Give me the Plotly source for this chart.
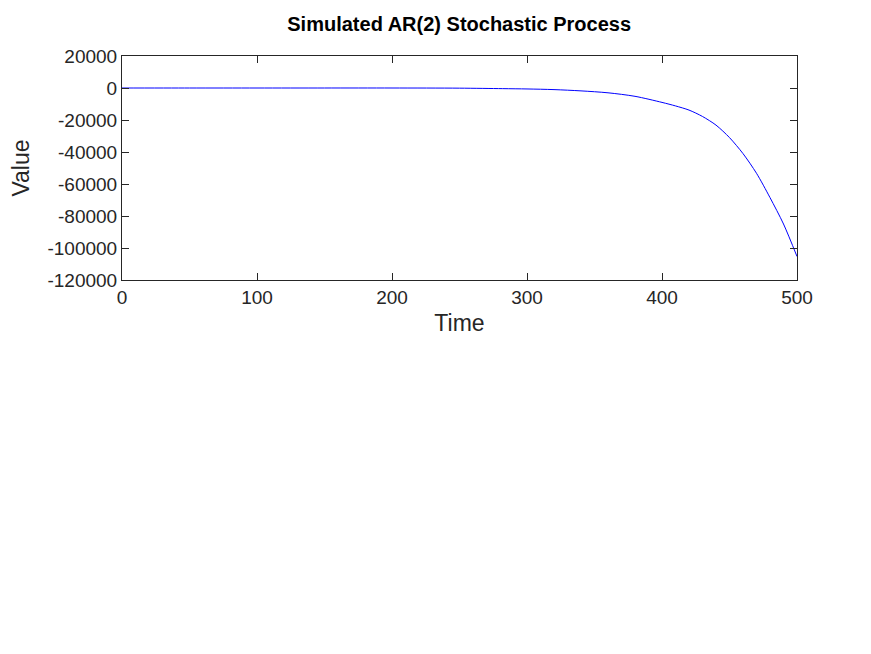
import plotly.graph_objects as go

time = [0, 50, 100, 150, 200, 250, 282, 300, 320, 340, 360, 380, 400, 410, 420, 430,
        440, 450, 460, 470, 480, 490, 500]
value = [0, 0, 0, 0, 0, -100, -400, -600, -1000, -1800, -3000, -5200, -9000, -11200, -13800, -17800,
         -23200, -31000, -41000, -53300, -68500, -85000, -105300]
y_ticks = [20000, 0, -20000, -40000, -60000, -80000, -100000, -120000]
y_labels = ["20000", "0", "-20000", "-40000", "-60000", "-80000", "-100000", "-120000"]

fig = go.Figure()
fig.add_trace(go.Scatter(x=time, y=value, mode="lines", line=dict(color="blue", width=1),
                         line_shape="spline", line_smoothing=0.8))

font = dict(family="Liberation Sans, Arial, sans-serif", size=19, color="#262626")
fig.update_layout(
    width=871, height=654, plot_bgcolor="white", paper_bgcolor="white",
    margin=dict(l=114, r=82, t=48, b=382), showlegend=False, font=font,
    title=dict(text="<b>Simulated AR(2) Stochastic Process</b>", x=0.518, xanchor="center",
               y=0.976, yanchor="middle", font=dict(size=20, color="black")),
)
axis = dict(showline=True, linecolor="#262626", linewidth=1, mirror="ticks", ticks="inside",
            ticklen=7, tickcolor="#262626", showgrid=False, zeroline=False, automargin=False)
fig.update_xaxes(range=[0, 500], dtick=100, title=dict(text="Time", standoff=8), **axis)
fig.update_yaxes(range=[-120000, 20000], tickvals=y_ticks, ticktext=y_labels,
                 title=dict(text="Value", standoff=38), **axis)
fig.write_html("out.html")
